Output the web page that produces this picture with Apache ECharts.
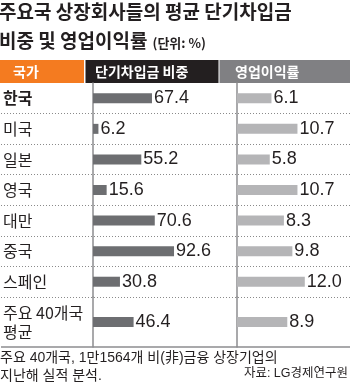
<!DOCTYPE html>
<html>
<head>
<meta charset="utf-8">
<script src="https://cdn.jsdelivr.net/npm/echarts@6/dist/echarts.min.js"></script>
<style>
  html, body { margin: 0; padding: 0; background: #fff; }
  #chart { width: 350px; height: 385px; }
</style>
</head>
<body>
<div id="chart"></div>
<script>
// Rows of the table: country, short-term borrowing share (%), operating margin (%)
const countries = ['한국', '미국', '일본', '영국', '대만', '중국', '스페인', '주요 40개국\n평균'];
const debtShare = [67.4, 6.2, 55.2, 15.6, 70.6, 92.6, 30.8, 46.4];
const opMargin = [6.1, 10.7, 5.8, 10.7, 8.3, 9.8, 12.0, 8.9];
const headers = ['국가', '단기차입금 비중', '영업이익률'];

const KR = "'Noto Sans CJK KR', sans-serif";
const NUM = "'Liberation Sans', 'Noto Sans CJK KR', sans-serif";
const INK = '#231f20';
const RULE = '#8d8d8f';

// table geometry
const headTop = 60, headH = 23;
const bodyTop = headTop + headH;           // first data row
const rowsTop = 7;                         // rows in the upper block
const bodyH = 214;                         // upper block height
const lastTop = bodyTop + bodyH;           // the two-line "average" row
const lastH = 50;
const col1 = 85.5, col2 = 218.5;           // column rules
const bar1Left = 93, bar1Scale = 0.875;    // px per percent point
const bar2Left = 237, bar2Scale = 5.8;

const topCats = countries.slice(0, rowsTop);
const botCats = countries.slice(rowsTop);

function grid(left, width, top, height) {
  return { left, width, top, height, containLabel: false };
}

function hiddenX(max, gridIndex) {
  return { type: 'value', min: 0, max, gridIndex, show: false };
}

function ruleY(cats, gridIndex, offset) {
  return {
    type: 'category', data: cats, inverse: true, gridIndex, offset,
    axisLine: { show: true, lineStyle: { color: RULE, width: 1.5 } },
    axisTick: { show: false }, axisLabel: { show: false }, splitLine: { show: false }
  };
}

function valueLabel() {
  return {
    show: true, position: 'right', distance: 2,
    fontFamily: NUM, fontSize: 18, color: INK,
    formatter: p => p.value.toFixed(1)
  };
}

const nameLabel = {
  show: true, inside: true, margin: 2,
  formatter: (v, i) => (v === '한국' ? '{b|' + v + '}' : v.split('\n').map(s => '{n|' + s + '}').join('\n')),
  rich: {
    b: { fontFamily: KR, fontSize: 16, fontWeight: 'bold', color: INK },
    n: { fontFamily: KR, fontSize: 16, color: INK, lineHeight: 19 }
  }
};

const chart = echarts.init(document.getElementById('chart'), null, { renderer: 'canvas' });

chart.setOption({
  animation: false,
  backgroundColor: '#fff',
  title: [
    {
      text: '{a|주요국 상장회사들의 평균 단기차입금}\n{a|비중 및 영업이익률} {u|(단위: %)}',
      left: -1, top: -3, padding: 0,
      textStyle: {
        rich: {
          a: { fontFamily: KR, fontSize: 19, fontWeight: 'bold', color: INK, lineHeight: 29 },
          u: { fontFamily: KR, fontSize: 13, color: INK, lineHeight: 29, padding: [6, 0, 0, 0] }
        }
      }
    },
    {
      text: '주요 40개국, 1만1564개 비(非)금융 상장기업의\n지난해 실적 분석.',
      left: 0, top: 349, padding: 0,
      textStyle: { fontFamily: NUM, fontSize: 14, fontWeight: 'normal', color: INK, lineHeight: 18 }
    },
    {
      text: '자료: LG경제연구원',
      right: 2, top: 367, padding: 0,
      textStyle: { fontFamily: NUM, fontSize: 12.5, fontWeight: 'normal', color: INK }
    }
  ],
  grid: [
    grid(0, 350, bodyTop, bodyH),
    grid(bar1Left, 100 * bar1Scale, bodyTop, bodyH),
    grid(bar2Left, 20 * bar2Scale, bodyTop, bodyH),
    grid(0, 350, lastTop, lastH),
    grid(bar1Left, 100 * bar1Scale, lastTop, lastH),
    grid(bar2Left, 20 * bar2Scale, lastTop, lastH)
  ],
  xAxis: [
    hiddenX(1, 0), hiddenX(100, 1), hiddenX(20, 2),
    hiddenX(1, 3), hiddenX(100, 4), hiddenX(20, 5)
  ],
  yAxis: [
    {
      type: 'category', data: topCats, inverse: true, gridIndex: 0,
      axisLine: { show: false }, axisTick: { show: false },
      axisLabel: nameLabel,
      splitLine: { show: true, showMinLine: false, showMaxLine: true,
        lineStyle: { color: '#8a8a8a', width: 1, type: [1, 2] } }
    },
    ruleY(topCats, 1, bar1Left - col1),
    ruleY(topCats, 2, bar2Left - col2),
    {
      type: 'category', data: botCats, inverse: true, gridIndex: 3,
      axisLine: { show: false }, axisTick: { show: false },
      axisLabel: nameLabel,
      splitLine: { show: true, showMinLine: false, showMaxLine: true,
        lineStyle: { color: RULE, width: 1.5, type: 'solid' } }
    },
    ruleY(botCats, 4, bar1Left - col1),
    ruleY(botCats, 5, bar2Left - col2)
  ],
  series: [
    { type: 'bar', xAxisIndex: 1, yAxisIndex: 1, data: debtShare.slice(0, rowsTop), barWidth: 10,
      itemStyle: { color: '#6d6e71' }, label: valueLabel(), silent: true },
    { type: 'bar', xAxisIndex: 2, yAxisIndex: 2, data: opMargin.slice(0, rowsTop), barWidth: 10,
      itemStyle: { color: '#b5b5b7' }, label: valueLabel(), silent: true },
    { type: 'bar', xAxisIndex: 4, yAxisIndex: 4, data: debtShare.slice(rowsTop), barWidth: 10,
      itemStyle: { color: '#6d6e71' }, label: valueLabel(), silent: true },
    { type: 'bar', xAxisIndex: 5, yAxisIndex: 5, data: opMargin.slice(rowsTop), barWidth: 10,
      itemStyle: { color: '#b5b5b7' }, label: valueLabel(), silent: true }
  ],
  graphic: [
    // column header bar
    { type: 'rect', shape: { x: 0, y: headTop, width: col1 - 1.5, height: headH }, style: { fill: '#f47b20' }, silent: true },
    { type: 'rect', shape: { x: col1, y: headTop, width: col2 - col1, height: headH }, style: { fill: '#231f20' }, silent: true },
    { type: 'rect', shape: { x: col2 + 1, y: headTop, width: 350 - col2, height: headH }, style: { fill: '#808083' }, silent: true },
    { type: 'text', x: 13, y: headTop + headH / 2, style: { text: headers[0], fill: '#fff', font: "bold 14px " + KR, verticalAlign: 'middle' }, silent: true },
    { type: 'text', x: 95, y: headTop + headH / 2, style: { text: headers[1], fill: '#fff', font: "bold 14px " + KR, verticalAlign: 'middle' }, silent: true },
    { type: 'text', x: 235, y: headTop + headH / 2, style: { text: headers[2], fill: '#fff', font: "bold 14px " + KR, verticalAlign: 'middle' }, silent: true }
  ]
});
</script>
</body>
</html>
